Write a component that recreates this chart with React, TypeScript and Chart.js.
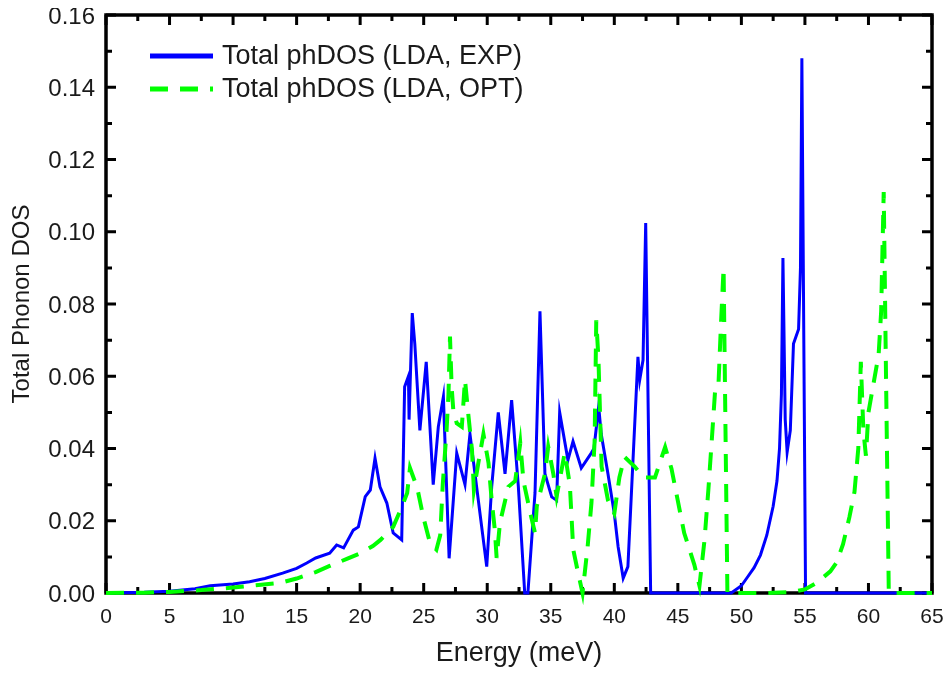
import React, { useEffect, useRef } from "react";
import { Chart, registerables } from "chart.js";

Chart.register(...registerables);

// Energy (meV) and DOS for "Total phDOS (LDA, EXP)"
const EXP_E = [
  0, 3, 5, 7, 8.2, 10, 11.3, 12.5, 13.9, 15, 15.8, 16.5, 17.6, 18.15, 18.7, 19.46, 19.86, 20.4, 20.8, 21.17,
  21.56, 22.1, 22.6, 23.27, 23.5, 23.8, 23.85, 24.1, 24.3, 24.7, 25.2, 25.75, 26.15, 26.55, 27.0, 27.6, 28.25,
  28.64, 29.96, 30.35, 30.87, 31.4, 31.92, 32.45, 32.95, 33.2, 33.76, 34.15, 34.54, 35.07, 35.46, 35.7, 36.35,
  36.75, 37.4, 38.2, 38.4, 38.77, 38.97, 39.5, 40.0, 40.3, 40.7, 41.07, 41.86, 42.0, 42.26, 42.47, 42.86, 49.2,
  50.0, 50.5, 51.0, 51.5, 52.0, 52.5, 52.8, 53.0, 53.15, 53.27, 53.45, 53.6, 53.85, 54.1, 54.5, 54.65, 54.76,
  55.05, 65,
];
const EXP_DOS = [
  0, 0.0002, 0.0005, 0.0012, 0.002, 0.0025, 0.0031, 0.004, 0.0055, 0.0068, 0.0083, 0.0097, 0.011, 0.0133,
  0.0125, 0.0174, 0.0183, 0.0267, 0.0285, 0.0373, 0.0294, 0.0249, 0.0166, 0.0147, 0.0571, 0.06, 0.048, 0.0775,
  0.069, 0.045, 0.064, 0.03, 0.046, 0.0543, 0.0096, 0.0387, 0.03, 0.044, 0.0073, 0.0294, 0.05, 0.033, 0.0534,
  0.0294, 0, 0, 0.0277, 0.078, 0.033, 0.0266, 0.0257, 0.05, 0.0368, 0.042, 0.0346, 0.0388, 0.04, 0.0516,
  0.044, 0.033, 0.022, 0.0128, 0.0041, 0.0073, 0.0654, 0.059, 0.0645, 0.1024, 0, 0, 0.002, 0.0045, 0.007,
  0.0105, 0.016, 0.024, 0.031, 0.04, 0.055, 0.0927, 0.048, 0.039, 0.045, 0.069, 0.073, 0.09, 0.148, 0, 0,
];

// Energy (meV) and DOS for "Total phDOS (LDA, OPT)"
const OPT_E = [
  0, 3, 5, 7.5, 10, 12, 13.7, 15, 16.5, 17.6, 19, 20, 21, 21.6, 22.6, 23.3, 23.7, 23.92, 24.5, 24.97, 25.5, 26.0,
  26.3, 26.5, 26.8, 26.95, 27.07, 27.2, 27.33, 27.6, 28.0, 28.25, 28.5, 28.8, 28.95, 29.3, 29.7, 30.1, 30.35,
  30.6, 30.74, 31.0, 31.66, 32.2, 32.6, 32.85, 33.4, 33.76, 33.9, 34.54, 34.8, 35.2, 35.46, 36.1, 36.5, 36.77,
  37.1, 37.5, 37.9, 38.2, 38.45, 38.58, 38.75, 38.9, 39.0, 39.5, 40.0, 40.4, 40.8, 41.6, 42.3, 43.2, 44.0, 44.5,
  45.0, 45.5, 46.3, 46.7, 47.1, 47.4, 47.8, 47.95, 48.2, 48.4, 48.6, 48.75, 48.9, 52, 54, 55, 56, 57, 57.5, 58,
  58.5, 58.9, 59.2, 59.4, 59.6, 59.8, 60.0, 60.4, 60.8, 61.0, 61.2, 61.4, 61.6, 65,
];
const OPT_DOS = [
  0, 0.0001, 0.0003, 0.0008, 0.0015, 0.0022, 0.0028, 0.004, 0.0058, 0.0075, 0.0095, 0.011, 0.013, 0.0147,
  0.0183, 0.024, 0.0277, 0.0346, 0.029, 0.021, 0.0138, 0.012, 0.016, 0.03, 0.045, 0.055, 0.071, 0.057, 0.0506,
  0.047, 0.046, 0.059, 0.0498, 0.0396, 0.0285, 0.036, 0.044, 0.036, 0.0257, 0.0174, 0.0097, 0.0194, 0.0294,
  0.031, 0.0415, 0.031, 0.022, 0.0166, 0.024, 0.033, 0.0405, 0.033, 0.0267, 0.0388, 0.03, 0.012, 0.0064, 0,
  0.0128, 0.0249, 0.042, 0.0755, 0.065, 0.047, 0.035, 0.0257, 0.022, 0.032, 0.0377, 0.035, 0.032, 0.032,
  0.0404, 0.0344, 0.0255, 0.0166, 0.0078, 0.002, 0.0147, 0.0285, 0.049, 0.057, 0.058, 0.075, 0.09, 0.045, 0,
  0, 0.0003, 0.001, 0.003, 0.006, 0.0085, 0.0135, 0.021, 0.028, 0.04, 0.064, 0.045, 0.038, 0.05, 0.058, 0.066,
  0.078, 0.111, 0.055, 0, 0,
];

const SERIES_NAMES = ["Total phDOS (LDA, EXP)", "Total phDOS (LDA, OPT)"];
const X_TITLE = "Energy (meV)";
const Y_TITLE = "Total Phonon DOS";
const X_MIN = 0, X_MAX = 65, X_STEP = 5;
const Y_MIN = 0, Y_MAX = 0.16, Y_STEP = 0.02;

const BLUE = "#0000ff";
const GREEN = "#00ff00";
const TEXT = "#1a1a1a";
const FONT = '"Liberation Sans", Arial, sans-serif';

const framePlugin = {
  id: "frameTicks",
  beforeDatasetsDraw(chart: any) {
    const { ctx, chartArea, scales } = chart;
    const { left, right, top, bottom } = chartArea;
    const xs = scales.x, ys = scales.y;
    ctx.save();
    ctx.strokeStyle = "#000";
    ctx.lineWidth = 3.5;
    ctx.strokeRect(left, top, right - left, bottom - top);
    ctx.lineWidth = 3;
    ctx.beginPath();
    for (let v = X_MIN; v <= X_MAX + 1e-9; v += X_STEP / 2) {
      const major = Math.abs(v / X_STEP - Math.round(v / X_STEP)) < 1e-6;
      const len = major ? 10 : 6;
      const px = xs.getPixelForValue(v);
      ctx.moveTo(px, bottom);
      ctx.lineTo(px, bottom - len);
      ctx.moveTo(px, top);
      ctx.lineTo(px, top + len);
    }
    for (let v = Y_MIN; v <= Y_MAX + 1e-9; v += Y_STEP / 2) {
      const major = Math.abs(v / Y_STEP - Math.round(v / Y_STEP)) < 1e-6;
      const len = major ? 10 : 6;
      const py = ys.getPixelForValue(v);
      ctx.moveTo(left, py);
      ctx.lineTo(left + len, py);
      ctx.moveTo(right, py);
      ctx.lineTo(right - len, py);
    }
    ctx.stroke();
    ctx.restore();
  },
  afterDraw(chart: any) {
    const { ctx } = chart;
    const ds = chart.data.datasets;
    // canvas sits at page offset (8, 8)
    const x0 = 142, x1 = 205, tx = 214;
    const rows = [48, 81];
    ctx.save();
    ctx.font = `27px ${FONT}`;
    ctx.textBaseline = "middle";
    ctx.textAlign = "left";
    // legend order: EXP then OPT
    const order = [1, 0];
    order.forEach((di, i) => {
      const d = ds[di];
      ctx.strokeStyle = d.borderColor;
      ctx.lineWidth = 5;
      ctx.setLineDash(d.borderDash || []);
      ctx.beginPath();
      ctx.moveTo(x0, rows[i]);
      ctx.lineTo(x1, rows[i]);
      ctx.stroke();
      ctx.setLineDash([]);
      ctx.fillStyle = TEXT;
      ctx.fillText(d.label, tx, rows[i] + 1);
    });
    ctx.restore();
  },
};

export default function App() {
  const ref = useRef<HTMLCanvasElement | null>(null);
  useEffect(() => {
    if (!ref.current) return;
    const expData = EXP_E.map((x, i) => ({ x, y: EXP_DOS[i] }));
    const optData = OPT_E.map((x, i) => ({ x, y: OPT_DOS[i] }));
    const chart = new Chart(ref.current, {
      type: "line",
      data: {
        datasets: [
          {
            label: SERIES_NAMES[1],
            data: optData,
            borderColor: GREEN,
            borderWidth: 4,
            borderDash: [18, 12],
            pointRadius: 0,
            tension: 0,
            fill: false,
            clip: false,
            order: 0,
          } as any,
          {
            label: SERIES_NAMES[0],
            data: expData,
            borderColor: BLUE,
            borderWidth: 3,
            pointRadius: 0,
            tension: 0,
            fill: false,
            clip: false,
            order: 1,
          } as any,
        ],
      },
      options: {
        responsive: false,
        animation: false,
        devicePixelRatio: 1,
        layout: { padding: { top: 7, right: 12, left: 0, bottom: 0 } },
        plugins: { legend: { display: false }, tooltip: { enabled: false } },
        scales: {
          x: {
            type: "linear",
            min: X_MIN,
            max: X_MAX,
            grid: { display: false, drawTicks: false },
            border: { display: false },
            ticks: {
              stepSize: X_STEP,
              color: TEXT,
              padding: 12,
              font: { family: FONT, size: 21 },
              maxRotation: 0,
            },
            title: {
              display: true,
              text: X_TITLE,
              color: TEXT,
              font: { family: FONT, size: 27, lineHeight: 1 },
              padding: { top: 0, bottom: 0 },
            },
            afterFit: (s: any) => {
              s.height = 74;
              s.paddingLeft = 0;
              s.paddingRight = 0;
            },
          },
          y: {
            type: "linear",
            min: Y_MIN,
            max: Y_MAX,
            grid: { display: false, drawTicks: false },
            border: { display: false },
            ticks: {
              stepSize: Y_STEP,
              color: TEXT,
              padding: 11,
              labelOffset: 2,
              font: { family: FONT, size: 24 },
              callback: (v: any) => Number(v).toFixed(2),
            },
            title: {
              display: true,
              text: Y_TITLE,
              color: TEXT,
              font: { family: FONT, size: 24 },
              padding: { top: 0, bottom: 0 },
            },
            afterFit: (s: any) => {
              s.width = 98;
              s.paddingTop = 0;
              s.paddingBottom = 0;
            },
          },
        },
      },
      plugins: [framePlugin],
    });
    return () => chart.destroy();
  }, []);
  return (
    <div style={{ width: 936, height: 659 }}>
      <canvas ref={ref} width={936} height={659} style={{ display: "block" }} />
    </div>
  );
}
